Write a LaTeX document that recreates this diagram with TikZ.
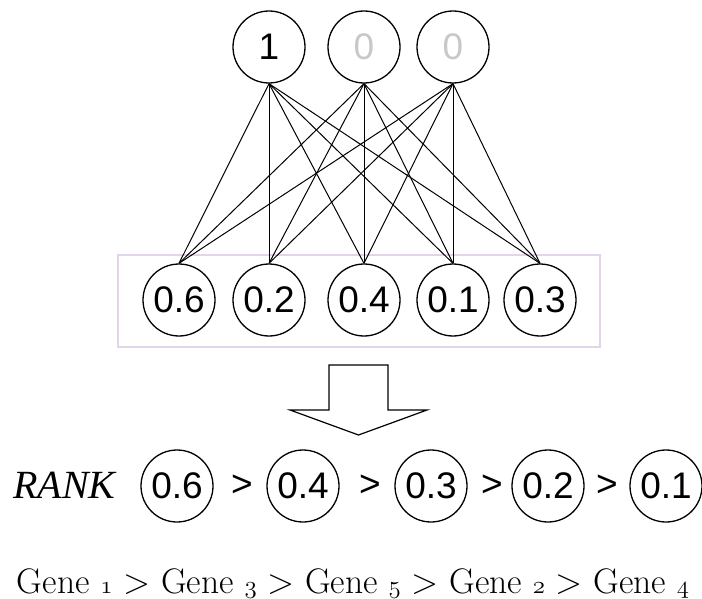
\documentclass[tikz,border=0pt]{standalone}
\usepackage{fontspec}
\newfontfamily\helv{Liberation Sans}
\newfontfamily\tms{Liberation Serif}
\usepackage{tikz}
\usetikzlibrary{calc}
\definecolor{boxlilac}{RGB}{226,212,234}
\definecolor{offgray}{RGB}{200,200,200}
\tikzset{
  unit/.style={draw,circle,minimum size=72pt,inner sep=0pt,line width=1.3pt,
    font=\helv\fontsize{37}{37}\selectfont},
  gt/.style={inner sep=0pt,font=\helv\fontsize{37}{37}\selectfont},
}
\newcommand{\osf}[1]{{\fontsize{41}{41}\usefont{OML}{lmm}{m}{it}#1}}

\begin{document}
\begin{tikzpicture}[x=1pt,y=-1pt]
      \useasboundingbox (0,0) rectangle (702,599);

      % output units
      \node[unit] (o1) at (269,47) {1};
      \node[unit,text=offgray] (o2) at (364,47) {0};
      \node[unit,text=offgray] (o3) at (453,47) {0};

      % gene units
      \draw[boxlilac,line width=1.3pt] (118,255) rectangle (600,347);
      \foreach \v/\x [count=\i] in {0.6/179,0.2/269,0.4/364,0.1/453,0.3/540}{
        \node[unit] (g\i) at (\x,300) {\v};
      }
      \foreach \i in {1,...,5}{
        \foreach \j in {1,2,3}{
          \draw[line width=1pt] (g\i.north) -- (o\j.south);% fully connected
        }
      }

      % big arrow
      \draw[line width=1.2pt,fill=white] (329,365) -- (388,365) -- (388,410)
        -- (427,410) -- (358.5,435) -- (290,410) -- (329,410) -- cycle;

      % ranking
      \node[anchor=base west,inner sep=0pt,font=\tms\itshape\fontsize{40}{40}\selectfont]
        (rank) at (13,498) {RANK};
      \foreach \v/\x [count=\i] in {0.6/177,0.4/303,0.3/431,0.2/548,0.1/666}{
        \node[unit] (r\i) at (\x,486) {\v};
      }
      \foreach \x [count=\i] in {242,370,492,607}{
        \node[gt] (gt\i) at (\x,486) {>};
      }

      \node[anchor=base,inner sep=0pt,font=\fontsize{35.5}{35.5}\selectfont] (genes) at (353,593)
        {Gene \osf{1} > Gene \osf{3} > Gene \osf{5} > Gene \osf{2} > Gene \osf{4}};
\end{tikzpicture}
\end{document}
